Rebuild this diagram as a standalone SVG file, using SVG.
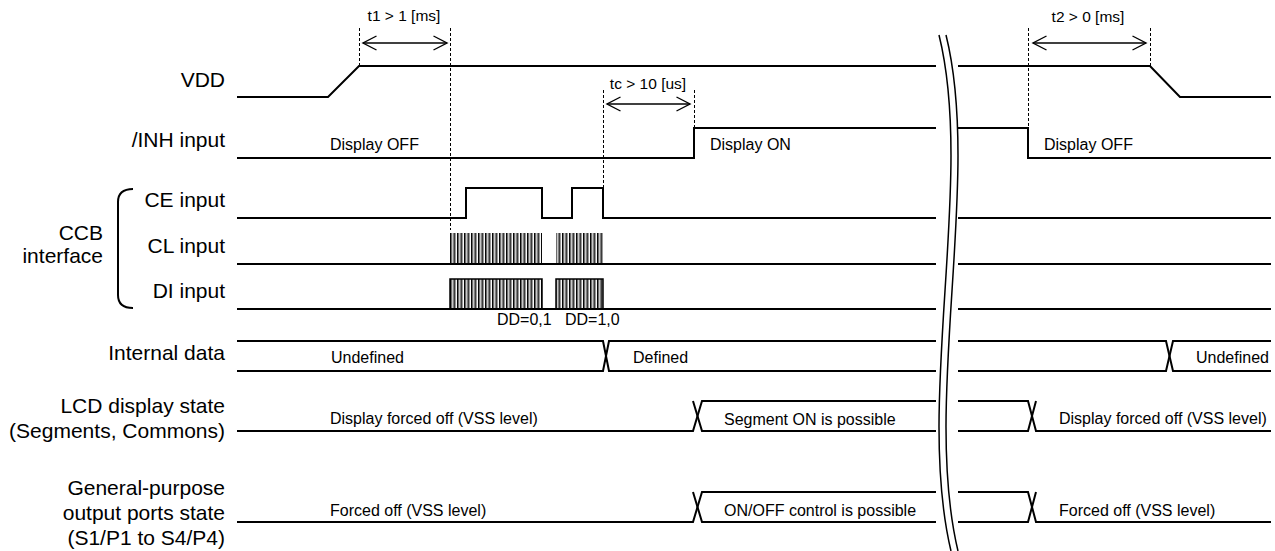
<svg xmlns="http://www.w3.org/2000/svg" width="1275" height="551" viewBox="0 0 1275 551">
<style>
.sig{fill:none;stroke:#000;stroke-width:2;stroke-linejoin:miter}
.lbl{font-family:"Liberation Sans",Arial,sans-serif;font-size:21px;fill:#000;text-anchor:end}
.ann{font-family:"Liberation Sans",Arial,sans-serif;font-size:16px;fill:#000}
.tm{font-family:"Liberation Sans",Arial,sans-serif;font-size:15.5px;fill:#000;text-anchor:middle}
.dash{fill:none;stroke:#000;stroke-width:1;stroke-dasharray:3,2}
.arr{fill:none;stroke:#000;stroke-width:1.4;marker-start:url(#ah);marker-end:url(#ah)}
.brk{fill:none;stroke:#000;stroke-width:1.5}
</style>
<defs>
<marker id="ah" markerUnits="userSpaceOnUse" markerWidth="18" markerHeight="18" refX="15" refY="9" orient="auto-start-reverse">
<path d="M1.5,2 L15,9 L1.5,16" fill="none" stroke="#000" stroke-width="1.4"/>
</marker>
<pattern id="hatch" patternUnits="userSpaceOnUse" x="450" y="0" width="3.5" height="10">
<rect x="0" y="0" width="1.5" height="10" fill="#000"/>
<rect x="1.5" y="0" width="1" height="10" fill="#8a8a8a"/>
<rect x="2.5" y="0" width="1" height="10" fill="#fff"/>
</pattern>
</defs>
<rect width="1275" height="551" fill="#fff"/>

<g id="vdd">
<text class="lbl" x="225" y="87">VDD</text>
<polyline class="sig" points="237,97 328,97 359,66 936,66"/>
<polyline class="sig" points="958,66 1150,66 1180,97 1271,97"/>
</g>

<g id="inh">
<text class="lbl" x="225" y="147">/INH input</text>
<polyline class="sig" points="237,158 694,158 694,128 936,128"/>
<polyline class="sig" points="958,128 1028,128 1028,158 1271,158"/>
<text class="ann" x="330" y="150">Display OFF</text>
<text class="ann" x="710" y="150">Display ON</text>
<text class="ann" x="1044" y="150">Display OFF</text>
</g>

<g id="ccb">
<text class="lbl" x="103" y="240">CCB</text>
<text class="lbl" x="103" y="263">interface</text>
<path class="sig" d="M133,189 Q118,189 118,202 L118,295 Q118,308 133,308" stroke-width="1.6"/>
</g>

<g id="ce">
<text class="lbl" x="225" y="207">CE input</text>
<polyline class="sig" points="237,218 466,218 466,188 542,188 542,218 572,218 572,188 603,188 603,218 936,218"/>
<polyline class="sig" points="958,218 1271,218"/>
</g>

<g id="cl">
<text class="lbl" x="225" y="253">CL input</text>
<rect x="450" y="233" width="92" height="31" fill="url(#hatch)"/>
<rect x="556" y="233" width="47" height="31" fill="url(#hatch)"/>
<polyline class="sig" points="237,264 936,264"/>
<polyline class="sig" points="958,264 1271,264"/>
</g>

<g id="di">
<text class="lbl" x="225" y="298">DI input</text>
<rect x="450" y="279" width="92" height="30" fill="url(#hatch)" stroke="#000" stroke-width="1.5"/>
<rect x="556" y="279" width="47" height="30" fill="url(#hatch)" stroke="#000" stroke-width="1.5"/>
<polyline class="sig" points="237,309 936,309"/>
<polyline class="sig" points="958,309 1271,309"/>
<text class="ann" x="497" y="325">DD=0,1</text>
<text class="ann" x="565" y="325">DD=1,0</text>
</g>

<g id="internal">
<text class="lbl" x="225" y="360">Internal data</text>
<polyline class="sig" points="237,341 603,341 609,371 936,371"/>
<polyline class="sig" points="237,371 603,371 609,341 936,341"/>
<polyline class="sig" points="958,341 1166,341 1173,371 1271,371"/>
<polyline class="sig" points="958,371 1166,371 1173,341 1271,341"/>
<text class="ann" x="331" y="363">Undefined</text>
<text class="ann" x="633" y="363">Defined</text>
<text class="ann" x="1196" y="363">Undefined</text>
</g>

<g id="lcd">
<text class="lbl" x="225" y="413">LCD display state</text>
<text class="lbl" x="225" y="438">(Segments, Commons)</text>
<polyline class="sig" points="237,431 693,431 702,401 936,401"/>
<polyline class="sig" points="693,401 702,431 936,431"/>
<polyline class="sig" points="958,401 1028,401 1036,431 1271,431"/>
<polyline class="sig" points="958,431 1028,431 1036,401"/>
<text class="ann" x="330" y="424">Display forced off (VSS level)</text>
<text class="ann" x="724" y="425">Segment ON is possible</text>
<text class="ann" x="1059" y="424">Display forced off (VSS level)</text>
</g>

<g id="gpo">
<text class="lbl" x="225" y="495">General-purpose</text>
<text class="lbl" x="225" y="520">output ports state</text>
<text class="lbl" x="225" y="545">(S1/P1 to S4/P4)</text>
<polyline class="sig" points="237,522 693,522 702,492 936,492"/>
<polyline class="sig" points="693,492 702,522 936,522"/>
<polyline class="sig" points="958,492 1028,492 1036,522 1271,522"/>
<polyline class="sig" points="958,522 1028,522 1036,492"/>
<text class="ann" x="330" y="516">Forced off (VSS level)</text>
<text class="ann" x="724" y="516">ON/OFF control is possible</text>
<text class="ann" x="1059" y="516">Forced off (VSS level)</text>
</g>

<g id="break">
<path class="brk" d="M939,35 C975,180 915,400 951,551"/>
<path class="brk" d="M946,35 C982,180 922,400 958,551"/>
</g>

<g id="connectors">
<line class="dash" x1="359.5" y1="28" x2="359.5" y2="66"/>
<line class="dash" x1="450.5" y1="28" x2="450.5" y2="230"/>
<line class="dash" x1="603.5" y1="90" x2="603.5" y2="187"/>
<line class="dash" x1="694.5" y1="90" x2="694.5" y2="127"/>
<line class="dash" x1="1028.5" y1="28" x2="1028.5" y2="127"/>
<line class="dash" x1="1150.5" y1="28" x2="1150.5" y2="66"/>
<line class="arr" x1="363" y1="43" x2="447" y2="43"/>
<line class="arr" x1="607" y1="104" x2="690" y2="104"/>
<line class="arr" x1="1033" y1="43" x2="1146" y2="43"/>
<text class="tm" x="404" y="21">t1 &gt; 1 [ms]</text>
<text class="tm" x="648" y="89">tc &gt; 10 [us]</text>
<text class="tm" x="1088" y="22">t2 &gt; 0 [ms]</text>
</g>
</svg>
